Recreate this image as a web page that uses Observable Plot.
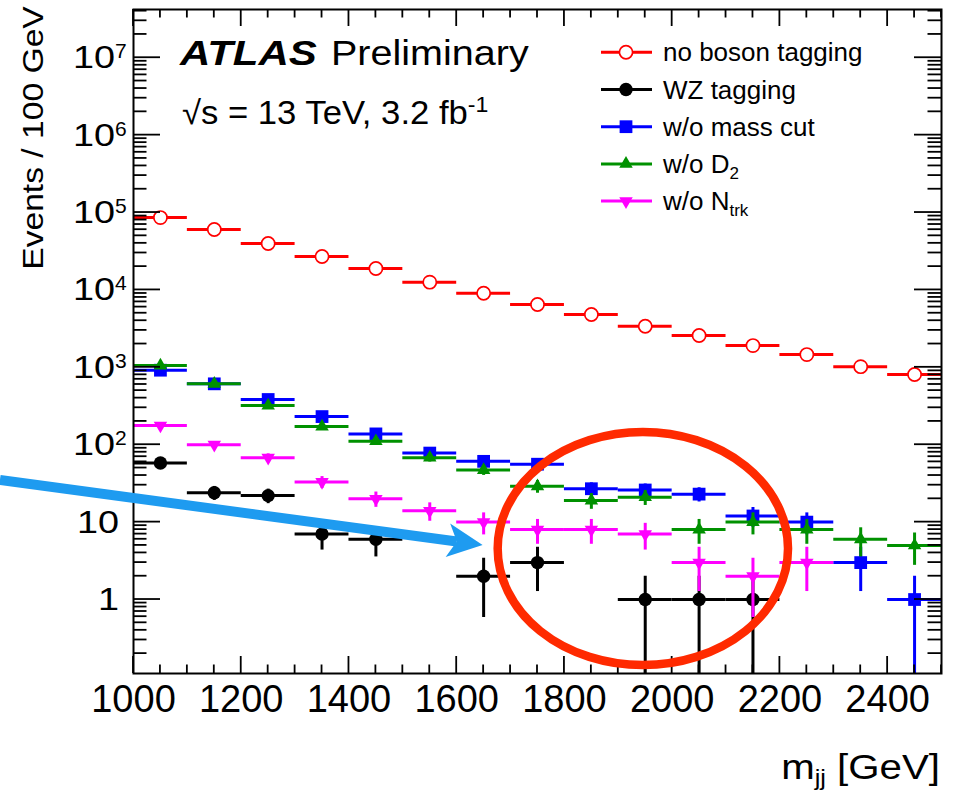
<!DOCTYPE html>
<html>
<head>
<meta charset="utf-8">
<script src="https://cdn.jsdelivr.net/npm/d3@7"></script>
<script src="https://cdn.jsdelivr.net/npm/@observablehq/plot@0.6"></script>
<style>
  html, body { margin: 0; padding: 0; background: #fff; }
  #chart svg { display: block; }
</style>
</head>
<body>
<div id="chart"></div>
<script>
// Dijet invariant mass bins (GeV)
const binEdges = [1000, 1100, 1200, 1300, 1400, 1500, 1600, 1700, 1800, 1900, 2000, 2100, 2200, 2300, 2400, 2500];

// Events per 100 GeV bin for each selection (null = empty bin)
const noBosonTagging = [86000, 60300, 39800, 27000, 18900, 12600, 9060, 6480, 4810, 3400, 2575, 1910, 1460, 1020, 807];
const wzTagging      = [58, 24, 22, 7, 6, null, 2, 3, null, 1, 1, 1, null, null, null];
const noMassCut      = [918, 612, 384, 231, 138, 78, 61, 56, 27, 26, 23, 12, 10, 3, 1];
const noD2           = [1055, 612, 321, 172, 111, 68, 47, 29, 19, 21, 8, 10, 8, 6, 5];
const noNtrk         = [177, 100, 68, 33, 20, 14, 10, 8, 8, 7, 3, 2, 3, null, null];

// Legend entries: main text and subscript
const seriesLabels = ["no boson tagging", "WZ tagging", "w/o mass cut", "w/o D", "w/o N"];
const seriesSubscripts = ["", "", "", "2", "trk"];

// Axis ticks
const xTickValues = [1000, 1200, 1400, 1600, 1800, 2000, 2200, 2400];
const yTickExponents = [0, 1, 2, 3, 4, 5, 6, 7];

// Highlighted region and pointer (data coordinates)
const ellipseBounds = {x1: 1677, x2: 2216, y1: 0.14, y2: 144};
const arrowFrom = {mjj: 753, events: 34.5};
const arrowTo = {mjj: 1649, events: 5.0};

const FONT = "'Liberation Sans', Arial, Helvetica, sans-serif";

// Downward-pointing triangle marker
const triangleDown = {
  draw(ctx, size) {
    const y = Math.sqrt(size / (3 * Math.sqrt(3)));
    ctx.moveTo(0, 2 * y);
    ctx.lineTo(-Math.sqrt(3) * y, -y);
    ctx.lineTo(Math.sqrt(3) * y, -y);
    ctx.closePath();
  }
};

const seriesStyles = [
  {color: "#ff0000", symbol: "circle", d3symbol: d3.symbolCircle, r: 6.6, fill: "white", strokeWidth: 1.7},
  {color: "#000000", symbol: "circle", d3symbol: d3.symbolCircle, r: 6.7},
  {color: "#0000ff", symbol: "square", d3symbol: d3.symbolSquare, r: 7.2},
  {color: "#009100", symbol: "triangle", d3symbol: d3.symbolTriangle, r: 5.0},
  {color: "#ff00ff", symbol: triangleDown, d3symbol: triangleDown, r: 5.0}
];
const seriesValues = [noBosonTagging, wzTagging, noMassCut, noD2, noNtrk];

function binRows(values) {
  const rows = [];
  values.forEach((v, i) => {
    if (v == null) return;
    const lo = binEdges[i], hi = binEdges[i + 1];
    const err = Math.sqrt(v); // Poisson uncertainty
    rows.push({lo, hi, c: (lo + hi) / 2, v, errLo: Math.max(v - err, 1e-3), errHi: v + err});
  });
  return rows;
}

const marks = [];
seriesValues.forEach((values, k) => {
  const s = seriesStyles[k];
  const rows = binRows(values);
  marks.push(
    Plot.ruleY(rows, {y: "v", x1: "lo", x2: "hi", stroke: s.color, strokeWidth: 3}),
    Plot.ruleX(rows, {x: "c", y1: "errLo", y2: "errHi", stroke: s.color, strokeWidth: 3, clip: true}),
    Plot.dot(rows, {
      x: "c", y: "v", symbol: s.symbol, r: s.r,
      fill: s.fill ?? s.color,
      stroke: s.fill ? s.color : "none",
      strokeWidth: s.strokeWidth ?? 0
    })
  );
});
marks.push(Plot.frame({stroke: "black", strokeWidth: 2}));

const chart = Plot.plot({
  width: 964,
  height: 791,
  marginLeft: 133,
  marginRight: 23,
  marginTop: 9,
  marginBottom: 118,
  style: {fontFamily: FONT, fontSize: "38px", background: "white", color: "black"},
  x: {
    domain: [binEdges[0], binEdges[binEdges.length - 1]],
    ticks: xTickValues, tickSize: 0, tickPadding: 12,
    tickFormat: d => String(d), label: null
  },
  y: {type: "log", domain: [0.1107, 4.2e7], axis: null},
  marks
});
document.getElementById("chart").appendChild(chart);

// ---- decorations drawn with the plot's scales ----
const xs = chart.scale("x"), ys = chart.scale("y");
const X = v => xs.apply(v), Y = v => ys.apply(v);
const [xL, xR] = xs.range;
const [yB, yT] = ys.range;
const svg = d3.select(chart);
const deco = svg.append("g");

// ticks on all four sides, pointing inward
const xMinor = d3.range(binEdges[0], binEdges[binEdges.length - 1] + 1, 50);
const ticks = deco.append("g").attr("stroke", "black").attr("stroke-width", 1.8);
for (const v of xMinor) {
  const len = xTickValues.includes(v) ? 17 : 8.5;
  const px = X(v);
  ticks.append("line").attr("x1", px).attr("x2", px).attr("y1", yB).attr("y2", yB - len);
  ticks.append("line").attr("x1", px).attr("x2", px).attr("y1", yT).attr("y2", yT + len);
}
const [yMin, yMax] = ys.domain;
for (let e = -1; e <= 7; e++) {
  for (let m = 1; m <= 9; m++) {
    const v = m * Math.pow(10, e);
    if (v < yMin || v > yMax) continue;
    const len = m === 1 ? 27 : 13.5;
    const py = Y(v);
    ticks.append("line").attr("x1", xL).attr("x2", xL + len).attr("y1", py).attr("y2", py);
    ticks.append("line").attr("x1", xR).attr("x2", xR - len).attr("y1", py).attr("y2", py);
  }
}

// text helper with optional horizontal stretch
function label(parent, {x, y, size, anchor = "start", weight = "normal", style = "normal", sx = 1, rotate = 0}) {
  return parent.append("text")
    .attr("transform", `translate(${x},${y})${rotate ? ` rotate(${rotate})` : ""} scale(${sx},1)`)
    .attr("text-anchor", anchor)
    .attr("font-family", FONT)
    .attr("font-size", size)
    .attr("font-weight", weight)
    .attr("font-style", style)
    .attr("fill", "black");
}

// y tick labels: 1, 10, 10^2 ... 10^7
for (const e of yTickExponents) {
  const py = Y(Math.pow(10, e));
  if (e < 2) {
    label(deco, {x: 119, y: py + 11, size: 31, anchor: "end", sx: 1.22}).text(String(Math.pow(10, e)));
  } else {
    label(deco, {x: 115, y: py + 11, size: 31, anchor: "end", sx: 1.22}).text("10");
    label(deco, {x: 115, y: py + 1, size: 21}).text(String(e));
  }
}

// axis titles
label(deco, {x: 43, y: 138, size: 29.5, anchor: "middle", sx: 1.14, rotate: -90}).text("Events / 100 GeV");
const xt = label(deco, {x: 940, y: 779, size: 35, anchor: "end", sx: 1.15});
xt.append("tspan").text("m");
xt.append("tspan").attr("font-size", 22).attr("dy", 6).text("jj");
xt.append("tspan").attr("dy", -6).text(" [GeV]");

// experiment label
label(deco, {x: 180, y: 65, size: 35, weight: "bold", style: "italic", sx: 1.2}).text("ATLAS");
label(deco, {x: 331, y: 65, size: 35, sx: 1.13}).text("Preliminary");
const lumi = label(deco, {x: 182, y: 124, size: 33, sx: 1.05});
lumi.append("tspan").text("\u221As = 13 TeV, 3.2 fb");
lumi.append("tspan").attr("font-size", 22).attr("dy", -12).text("-1");

// legend
const legend = deco.append("g");
seriesLabels.forEach((name, k) => {
  const s = seriesStyles[k];
  const cy = 52.3 + k * 37.2;
  legend.append("line").attr("x1", 601).attr("x2", 652).attr("y1", cy).attr("y2", cy)
    .attr("stroke", s.color).attr("stroke-width", 3);
  legend.append("path")
    .attr("d", d3.symbol(s.d3symbol, Math.PI * s.r * s.r)())
    .attr("transform", `translate(626,${cy})`)
    .attr("fill", s.fill ?? s.color)
    .attr("stroke", s.fill ? s.color : "none")
    .attr("stroke-width", s.strokeWidth ?? 0);
  const t = label(legend, {x: 663, y: cy + 9, size: 26});
  t.append("tspan").text(name);
  if (seriesSubscripts[k]) t.append("tspan").attr("font-size", 17).attr("dy", 6).text(seriesSubscripts[k]);
});

// highlighted region
const ex1 = X(ellipseBounds.x1), ex2 = X(ellipseBounds.x2);
const ey1 = Y(ellipseBounds.y2), ey2 = Y(ellipseBounds.y1);
deco.append("ellipse")
  .attr("cx", (ex1 + ex2) / 2).attr("cy", (ey1 + ey2) / 2)
  .attr("rx", (ex2 - ex1) / 2).attr("ry", (ey2 - ey1) / 2)
  .attr("fill", "none").attr("stroke", "#ff2a00").attr("stroke-width", 8.5);

// pointer arrow
const ax0 = X(arrowFrom.mjj), ay0 = Y(arrowFrom.events);
const ax1 = X(arrowTo.mjj), ay1 = Y(arrowTo.events);
const len = Math.hypot(ax1 - ax0, ay1 - ay0);
const ux = (ax1 - ax0) / len, uy = (ay1 - ay0) / len;
const px = -uy, py = ux;
const headL = 35, headW = 17, notch = 9;
const ARROW = "#1e9bf0";
deco.append("line")
  .attr("x1", ax0).attr("y1", ay0)
  .attr("x2", ax1 - ux * (headL - notch)).attr("y2", ay1 - uy * (headL - notch))
  .attr("stroke", ARROW).attr("stroke-width", 10);
deco.append("path")
  .attr("d", `M${ax1},${ay1}` +
    `L${ax1 - ux * headL + px * headW},${ay1 - uy * headL + py * headW}` +
    `L${ax1 - ux * (headL - notch)},${ay1 - uy * (headL - notch)}` +
    `L${ax1 - ux * headL - px * headW},${ay1 - uy * headL - py * headW}Z`)
  .attr("fill", ARROW);
</script>
</body>
</html>
